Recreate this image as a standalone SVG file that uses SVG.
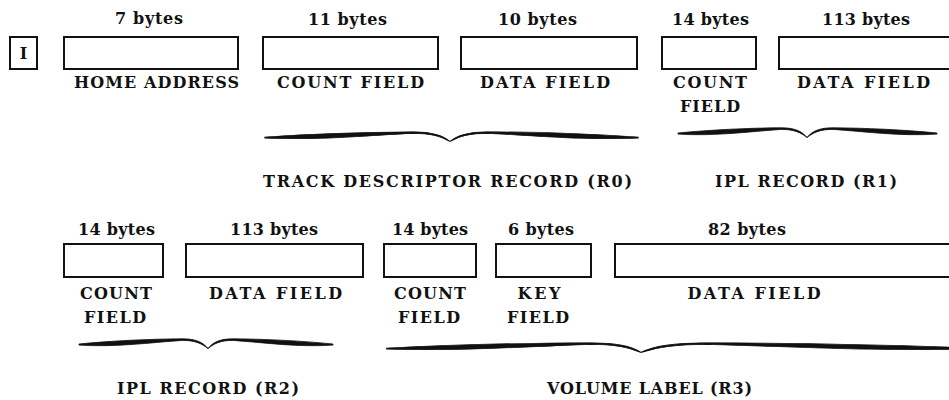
<svg xmlns="http://www.w3.org/2000/svg" xmlns:xlink="http://www.w3.org/1999/xlink" width="949" height="400" viewBox="0 0 949 400">
<style>
  .box { fill: none; stroke: #111; stroke-width: 2; }
  .t { font-family: "DejaVu Serif", "Liberation Serif", serif; font-weight: bold; font-size: 16px; fill: #111; text-anchor: middle; }
  .brace { fill: #111; stroke: #111; stroke-width: 0.7; }
</style>
<defs>
  <path id="hb" d="M0,0 C25,-3.2 55,-5 80,-5.2 C90,-5.3 96,-2 100,4.5 C95,-0.6 90,-3.6 80,-3.6 C55,-1.4 28,3.4 0,1.1 Z"/>
</defs>
<rect width="949" height="400" fill="#fff"/>

<g id="marker-I">
  <rect class="box" x="10" y="37" width="27" height="32"/>
  <text class="t" x="23.5" y="59">I</text>
</g>

<g id="home-address">
  <text class="t" x="149" y="24" textLength="68" lengthAdjust="spacing">7 bytes</text>
  <rect class="box" x="64" y="37" width="174" height="32"/>
  <text class="t" x="156.5" y="88" textLength="165" lengthAdjust="spacing">HOME ADDRESS</text>
</g>

<g id="r0-count">
  <text class="t" x="347.5" y="25" textLength="79" lengthAdjust="spacing">11 bytes</text>
  <rect class="box" x="263" y="37" width="175" height="32"/>
  <text class="t" x="350.5" y="88" textLength="147" lengthAdjust="spacing">COUNT FIELD</text>
</g>

<g id="r0-data">
  <text class="t" x="537.5" y="25" textLength="79" lengthAdjust="spacing">10 bytes</text>
  <rect class="box" x="461" y="37" width="176" height="32"/>
  <text class="t" x="545" y="88" textLength="130" lengthAdjust="spacing">DATA FIELD</text>
</g>

<g id="r1-count">
  <text class="t" x="710.5" y="25" textLength="77" lengthAdjust="spacing">14 bytes</text>
  <rect class="box" x="662" y="37" width="94" height="32"/>
  <text class="t" x="710" y="88" textLength="74" lengthAdjust="spacing">COUNT</text>
  <text class="t" x="710" y="112" textLength="60" lengthAdjust="spacing">FIELD</text>
</g>

<g id="r1-data">
  <text class="t" x="866" y="25" textLength="88" lengthAdjust="spacing">113 bytes</text>
  <rect class="box" x="779" y="37" width="190" height="32"/>
  <text class="t" x="863.5" y="88" textLength="133" lengthAdjust="spacing">DATA FIELD</text>
</g>

<g id="r2-count">
  <text class="t" x="116.5" y="235" textLength="77" lengthAdjust="spacing">14 bytes</text>
  <rect class="box" x="64" y="244" width="99" height="33"/>
  <text class="t" x="116" y="299" textLength="72" lengthAdjust="spacing">COUNT</text>
  <text class="t" x="115" y="323" textLength="62" lengthAdjust="spacing">FIELD</text>
</g>

<g id="r2-data">
  <text class="t" x="274" y="235" textLength="88" lengthAdjust="spacing">113 bytes</text>
  <rect class="box" x="186" y="244" width="177" height="33"/>
  <text class="t" x="275.5" y="299" textLength="133" lengthAdjust="spacing">DATA FIELD</text>
</g>

<g id="r3-count">
  <text class="t" x="430" y="235" textLength="76" lengthAdjust="spacing">14 bytes</text>
  <rect class="box" x="384" y="244" width="92" height="33"/>
  <text class="t" x="430" y="299" textLength="72" lengthAdjust="spacing">COUNT</text>
  <text class="t" x="429" y="323" textLength="62" lengthAdjust="spacing">FIELD</text>
</g>

<g id="r3-key">
  <text class="t" x="541" y="235" textLength="66" lengthAdjust="spacing">6 bytes</text>
  <rect class="box" x="496" y="244" width="95" height="33"/>
  <text class="t" x="539" y="299" textLength="43" lengthAdjust="spacing">KEY</text>
  <text class="t" x="538" y="323" textLength="62" lengthAdjust="spacing">FIELD</text>
</g>

<g id="r3-data">
  <text class="t" x="747" y="235" textLength="78" lengthAdjust="spacing">82 bytes</text>
  <rect class="box" x="615" y="244" width="360" height="33"/>
  <text class="t" x="754" y="299" textLength="133" lengthAdjust="spacing">DATA FIELD</text>
</g>

<g id="connectors">
  <use class="brace" xlink:href="#hb" href="#hb" transform="translate(265,137) scale(1.85,1)"/>
  <use class="brace" xlink:href="#hb" href="#hb" transform="translate(638,137) scale(-1.88,1)"/>
  <use class="brace" xlink:href="#hb" href="#hb" transform="translate(678,133) scale(1.29,1)"/>
  <use class="brace" xlink:href="#hb" href="#hb" transform="translate(937,133) scale(-1.30,1)"/>
  <use class="brace" xlink:href="#hb" href="#hb" transform="translate(79,344) scale(1.29,1)"/>
  <use class="brace" xlink:href="#hb" href="#hb" transform="translate(333,344) scale(-1.25,1)"/>
  <use class="brace" xlink:href="#hb" href="#hb" transform="translate(387,348) scale(2.54,1)"/>
  <use class="brace" xlink:href="#hb" href="#hb" transform="translate(975,348) scale(-3.34,1)"/>
</g>

<g id="record-labels">
  <text class="t" x="447.5" y="187" textLength="369" lengthAdjust="spacing">TRACK DESCRIPTOR RECORD (R0)</text>
  <text class="t" x="806" y="187" textLength="182" lengthAdjust="spacing">IPL RECORD (R1)</text>
  <text class="t" x="208" y="394" textLength="182" lengthAdjust="spacing">IPL RECORD (R2)</text>
  <text class="t" x="649.5" y="394" textLength="205" lengthAdjust="spacing">VOLUME LABEL (R3)</text>
</g>
</svg>
